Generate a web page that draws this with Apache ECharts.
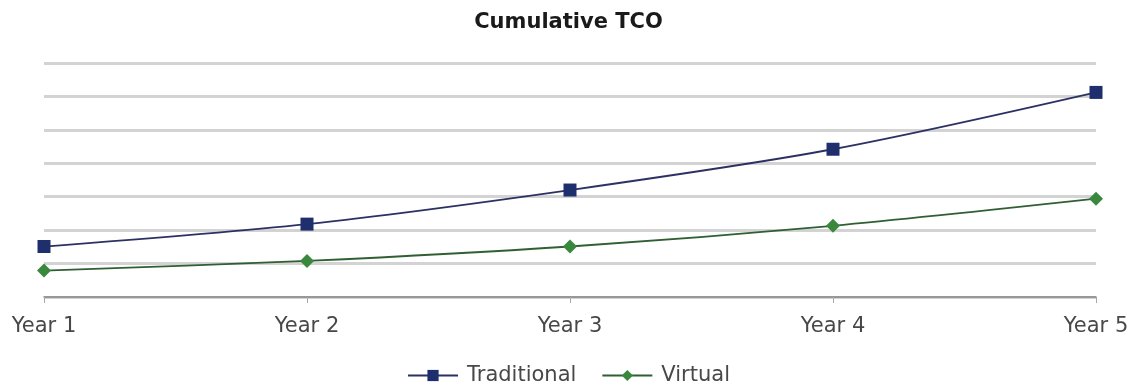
<!DOCTYPE html>
<html>
<head>
<meta charset="utf-8">
<script src="https://cdn.jsdelivr.net/npm/echarts@6/dist/echarts.min.js"></script>
<style>
  html, body { margin: 0; padding: 0; background: #ffffff; }
  #chart { width: 1137px; height: 385px; }
</style>
</head>
<body>
<div id="chart"></div>
<script>
// Cumulative total cost of ownership over five years
const years = ['Year 1', 'Year 2', 'Year 3', 'Year 4', 'Year 5'];
const traditional = [1.51, 2.18, 3.20, 4.42, 6.12];
const virtual = [0.79, 1.08, 1.51, 2.13, 2.94];

const font = 'DejaVu Sans';
const chart = echarts.init(document.getElementById('chart'), null, { renderer: 'canvas' });

chart.setOption({
  backgroundColor: '#ffffff',
  animation: false,
  title: {
    text: 'Cumulative TCO',
    left: 'center',
    top: 7,
    textStyle: { fontFamily: font, fontSize: 21, fontWeight: 'bold', color: '#1a1a1a' }
  },
  legend: {
    data: ['Traditional', 'Virtual'],
    left: 'center',
    top: 360,
    itemWidth: 50,
    itemHeight: 14,
    itemGap: 25,
    textStyle: { fontFamily: font, fontSize: 21, color: '#484848', padding: [0, 0, 0, 4] }
  },
  grid: { left: 44, right: 41, top: 63, bottom: 88, containLabel: false },
  xAxis: {
    type: 'category',
    data: years,
    boundaryGap: false,
    axisLine: { lineStyle: { color: '#858585', width: 1.5 } },
    axisTick: { show: true, length: 6, alignWithLabel: true, lineStyle: { color: '#a8a8a8', width: 1 } },
    axisLabel: { fontFamily: font, fontSize: 21, color: '#484848', margin: 19 },
    splitLine: { show: false }
  },
  yAxis: {
    type: 'value',
    min: 0,
    max: 7,
    interval: 1,
    axisLine: { show: false },
    axisTick: { show: false },
    axisLabel: { show: false },
    splitLine: { lineStyle: { color: '#d3d3d3', width: 3 } }
  },
  series: [
    {
      name: 'Traditional',
      type: 'line',
      data: traditional,
      smooth: 0.3,
      symbol: 'rect',
      symbolSize: 13,
      lineStyle: { color: '#2c3164', width: 1.8 },
      itemStyle: { color: '#1f2f6e' }
    },
    {
      name: 'Virtual',
      type: 'line',
      data: virtual,
      smooth: 0.3,
      symbol: 'diamond',
      symbolSize: 14,
      lineStyle: { color: '#2f5f33', width: 1.8 },
      itemStyle: { color: '#3a873e' }
    }
  ]
});
</script>
</body>
</html>
